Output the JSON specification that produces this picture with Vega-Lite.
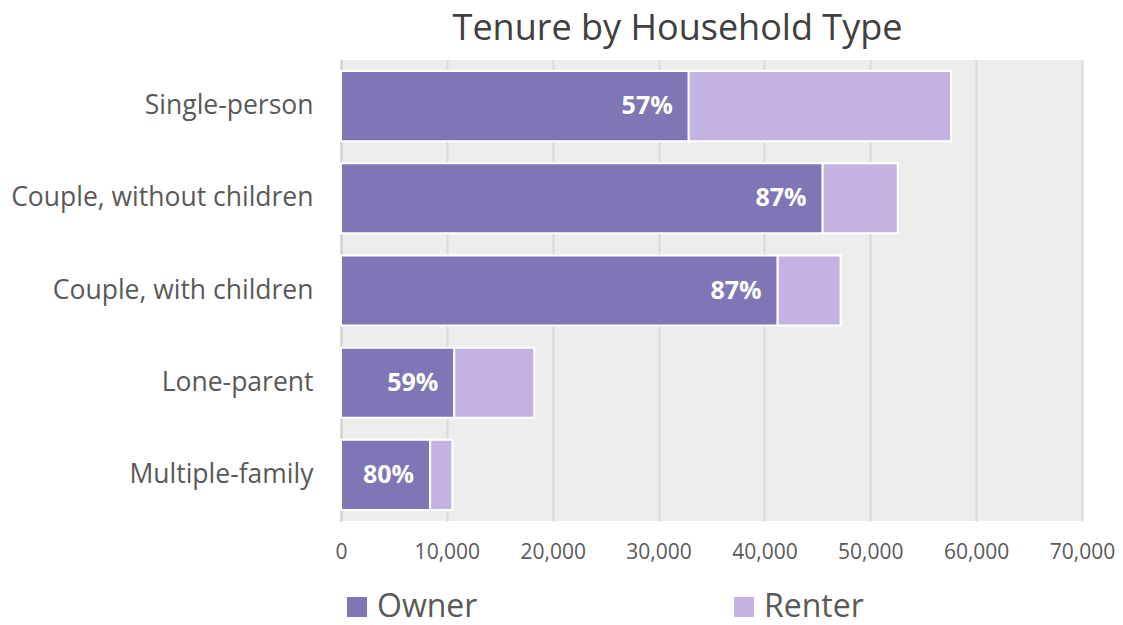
{
  "$schema": "https://vega.github.io/schema/vega-lite/v6.json",
  "width": 741,
  "height": 461,
  "autosize": {"type": "none"},
  "padding": {"left": 341, "top": 60, "right": 41, "bottom": 104},
  "background": "#ffffff",
  "title": {
    "text": "Tenure by Household Type",
    "font": "Open Sans",
    "fontSize": 36,
    "fontWeight": "normal",
    "color": "#404040",
    "anchor": "middle",
    "frame": "group",
    "dx": -34,
    "offset": 12
  },
  "config": {
    "view": {"fill": "#ededed", "stroke": null},
    "font": "Open Sans"
  },
  "data": {
    "values": [
      {"type": "Single-person", "tenure": "Owner", "ord": 1, "value": 32850, "pct": "57%"},
      {"type": "Single-person", "tenure": "Renter", "ord": 2, "value": 24780, "pct": ""},
      {"type": "Couple, without children", "tenure": "Owner", "ord": 1, "value": 45500, "pct": "87%"},
      {"type": "Couple, without children", "tenure": "Renter", "ord": 2, "value": 7100, "pct": ""},
      {"type": "Couple, with children", "tenure": "Owner", "ord": 1, "value": 41250, "pct": "87%"},
      {"type": "Couple, with children", "tenure": "Renter", "ord": 2, "value": 5950, "pct": ""},
      {"type": "Lone-parent", "tenure": "Owner", "ord": 1, "value": 10700, "pct": "59%"},
      {"type": "Lone-parent", "tenure": "Renter", "ord": 2, "value": 7560, "pct": ""},
      {"type": "Multiple-family", "tenure": "Owner", "ord": 1, "value": 8420, "pct": "80%"},
      {"type": "Multiple-family", "tenure": "Renter", "ord": 2, "value": 2100, "pct": ""}
    ]
  },
  "encoding": {
    "y": {
      "field": "type",
      "type": "nominal",
      "sort": ["Single-person", "Couple, without children", "Couple, with children", "Lone-parent", "Multiple-family"],
      "scale": {"paddingInner": 0.24, "paddingOuter": 0.12},
      "axis": {
        "title": null,
        "labelFont": "Open Sans",
        "labelFontSize": 26.5,
        "labelColor": "#595959",
        "labelPadding": 28,
        "ticks": false,
        "domain": true,
        "domainColor": "#d0d0d0",
        "domainWidth": 2,
        "grid": false,
        "labelLimit": 400
      }
    }
  },
  "layer": [
    {
      "mark": {"type": "bar", "stroke": "#ffffff", "strokeWidth": 2},
      "encoding": {
        "x": {
          "field": "value",
          "type": "quantitative",
          "stack": "zero",
          "scale": {"domain": [0, 70000], "nice": false},
          "axis": {
            "title": null,
            "values": [0, 10000, 20000, 30000, 40000, 50000, 60000, 70000],
            "format": ",d",
            "labelFont": "Open Sans",
            "labelFontSize": 21,
            "labelColor": "#595959",
            "labelPadding": 20,
            "labelFlush": false,
            "labelOverlap": false,
            "ticks": false,
            "domain": false,
            "grid": true,
            "gridColor": "#d9d9d9",
            "gridWidth": 2
          }
        },
        "color": {
          "field": "tenure",
          "type": "nominal",
          "scale": {"domain": ["Owner", "Renter"], "range": ["#8076b6", "#c3b3e3"]},
          "legend": {
            "title": null,
            "orient": "none",
            "direction": "horizontal",
            "columns": 2,
            "legendX": 0,
            "legendY": 531,
            "symbolType": "square",
            "symbolSize": 400,
            "symbolStrokeWidth": 0,
            "labelFont": "Open Sans",
            "labelFontSize": 32,
            "labelColor": "#595959",
            "labelOffset": 4,
            "columnPadding": 250
          }
        },
        "order": {"field": "ord", "type": "quantitative"}
      }
    },
    {
      "transform": [{"filter": "datum.tenure === 'Owner'"}],
      "mark": {
        "type": "text",
        "align": "right",
        "baseline": "middle",
        "dx": -16,
        "font": "Open Sans",
        "fontSize": 25,
        "fontWeight": "bold",
        "color": "#ffffff"
      },
      "encoding": {
        "x": {"field": "value", "type": "quantitative"},
        "text": {"field": "pct"}
      }
    }
  ]
}
